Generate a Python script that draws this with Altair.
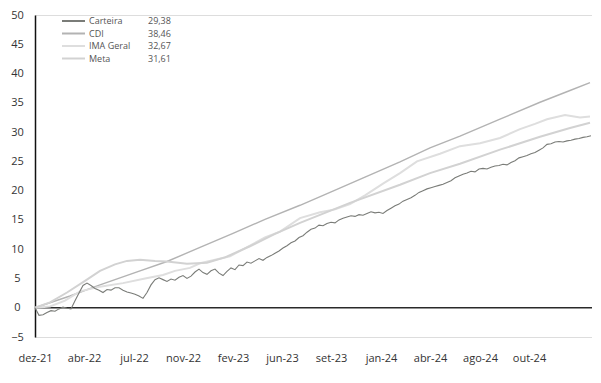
import altair as alt
import pandas as pd

# ---- data ----
series_names = ["Carteira", "CDI", "IMA Geral", "Meta"]
legend_values = ["29,38", "38,46", "32,67", "31,61"]
series_colors = ["#7a7c78", "#b3b3b3", "#dedede", "#d2d2d2"]

tick_positions = [0, 49, 99, 148, 198, 247, 296, 346, 395, 445, 494]
tick_labels = ["dez-21", "abr-22", "jul-22", "nov-22", "fev-23", "jun-23",
               "set-23", "jan-24", "abr-24", "ago-24", "out-24"]
y_ticks = [-5, 0, 5, 10, 15, 20, 25, 30, 35, 40, 45, 50]

carteira_x = list(range(0, 557, 4))
carteira_y = [
    0.0, -1.3, -1.2, -0.8, -0.5, -0.6, -0.2, 0.1, -0.1, -0.2,
    1.2, 2.5, 3.8, 4.2, 3.8, 3.3, 3.0, 2.6, 3.1, 3.0,
    3.4, 3.4, 3.0, 2.7, 2.5, 2.3, 2.0, 1.6, 2.6, 3.9,
    4.8, 5.1, 4.8, 4.5, 4.9, 4.7, 5.2, 5.5, 5.0, 5.4,
    6.1, 6.6, 6.0, 5.7, 6.3, 6.6, 5.9, 5.5, 6.2, 6.8,
    6.5, 7.3, 7.2, 7.8, 7.6, 8.0, 8.4, 8.1, 8.6, 8.9,
    9.3, 9.7, 10.2, 10.6, 11.1, 11.4, 12.0, 12.3, 12.9, 13.4,
    13.6, 14.1, 14.0, 14.4, 14.6, 14.5, 15.0, 15.3, 15.5, 15.7,
    15.6, 15.9, 15.8, 16.1, 16.4, 16.2, 16.3, 16.1, 16.6, 17.0,
    17.4, 17.7, 18.2, 18.5, 18.8, 19.2, 19.7, 20.0, 20.3, 20.5,
    20.7, 20.9, 21.1, 21.4, 21.7, 22.2, 22.5, 22.8, 23.0, 23.3,
    23.2, 23.7, 23.8, 23.7, 24.0, 24.2, 24.3, 24.5, 24.4, 24.8,
    25.1, 25.6, 25.8, 26.0, 26.3, 26.5, 26.9, 27.3, 27.9, 28.0,
    28.3, 28.4, 28.3, 28.5, 28.6, 28.8, 28.9, 29.1, 29.2, 29.38,
]

cdi_x = [0, 35, 65, 100, 132, 165, 198, 230, 265, 295, 330, 365, 395, 425, 465, 505, 535, 555]
cdi_y = [0.0, 2.0, 3.9, 6.0, 7.9, 10.3, 12.7, 15.1, 17.5, 19.7, 22.3, 24.9, 27.3, 29.3, 32.2, 35.1, 37.1, 38.46]

ima_x = [0, 15, 30, 45, 65, 88, 110, 128, 140, 155, 165, 178, 195, 215, 230, 245, 265,
         285, 300, 315, 330, 348, 365, 382, 405, 425, 445, 465, 485, 500, 512, 530, 545, 555]
ima_y = [0.0, 0.2, 1.2, 2.8, 3.6, 4.2, 5.0, 5.6, 6.3, 6.8, 7.6, 8.1, 8.8, 10.6, 12.0, 13.0, 15.3,
         16.3, 16.8, 17.7, 19.2, 21.2, 23.0, 25.0, 26.3, 27.6, 28.1, 29.0, 30.5, 31.4, 32.2, 32.9, 32.5, 32.67]

meta_x = [0, 15, 32, 50, 65, 80, 92, 105, 120, 132, 152, 172, 190, 215, 240, 265, 290,
          315, 365, 395, 425, 465, 505, 535, 555]
meta_y = [0.0, 0.9, 2.6, 4.6, 6.3, 7.4, 8.0, 8.2, 8.0, 7.9, 7.5, 7.7, 8.6, 10.5, 12.6, 14.5, 16.2,
          17.9, 21.0, 23.0, 24.6, 27.0, 29.2, 30.7, 31.61]

zero_level = [0]

# ---- tables ----
frames = []
for name, xs, ys in [("Carteira", carteira_x, carteira_y), ("CDI", cdi_x, cdi_y),
                     ("IMA Geral", ima_x, ima_y), ("Meta", meta_x, meta_y)]:
    frames.append(pd.DataFrame({"serie": name, "dia": xs, "valor": ys}))
df = pd.concat(frames, ignore_index=True)
legend_df = pd.DataFrame({"serie": series_names, "texto": legend_values})

FONT = "Open Sans"
color_scale = alt.Scale(domain=series_names, range=series_colors)

label_expr = "[{}][indexof([{}], datum.value)]".format(
    ",".join("'" + t + "'" for t in tick_labels),
    ",".join(str(p) for p in tick_positions))

x_enc = alt.X("dia:Q", scale=alt.Scale(domain=[0, 557], nice=False, zero=False),
              axis=alt.Axis(values=tick_positions, labelExpr=label_expr, title=None,
                            domain=False, ticks=False, grid=False, labelPadding=15,
                            labelFontSize=11, labelFont=FONT, labelColor="#333333",
                            labelFlush=False, labelOverlap=False))
y_axis = alt.Axis(values=y_ticks, title=None, grid=False, ticks=False,
                  domain=True, domainColor="#111111", domainWidth=1.5,
                  labelFontSize=11, labelFont=FONT, labelColor="#333333",
                  labelAlign="center", labelPadding=18, labelFlush=False,
                  labelOverlap=False, labelBound=False)
y_scale = alt.Scale(domain=[-5, 50], nice=False, zero=False)
y_enc = alt.Y("valor:Q", scale=y_scale, axis=y_axis)

base = alt.Chart(df)
widths = {"CDI": 1.4, "IMA Geral": 2.0, "Meta": 2.0, "Carteira": 1.1}
line_layers = []
for name in ["CDI", "IMA Geral", "Meta", "Carteira"]:
    line_layers.append(
        base.transform_filter(alt.datum.serie == name)
        .mark_line(strokeWidth=widths[name], interpolate="linear")
        .encode(x=x_enc, y=y_enc,
                color=alt.Color("serie:N", scale=color_scale, legend=None))
    )

zero_rule = alt.Chart(pd.DataFrame({"valor": zero_level})).mark_rule(
    color="#2a2a2a", strokeWidth=1.5).encode(y=y_enc)

plot = alt.layer(zero_rule, *line_layers)

leg_y = alt.Y("serie:N",
              scale=alt.Scale(type="point", domain=series_names, range=[6, 43.5], padding=0),
              axis=None)
leg_sym = alt.Chart(legend_df).mark_rule(strokeWidth=2).encode(
    y=leg_y, x=alt.value(27), x2=alt.value(50),
    color=alt.Color("serie:N", scale=color_scale, legend=None))
leg_name = alt.Chart(legend_df).mark_text(
    align="left", baseline="middle", font=FONT, fontSize=9, color="#555555").encode(
    y=leg_y, x=alt.value(54), text="serie:N")
leg_val = alt.Chart(legend_df).mark_text(
    align="left", baseline="middle", font=FONT, fontSize=9, color="#555555").encode(
    y=leg_y, x=alt.value(113), text="texto:N")
legend = alt.layer(leg_sym, leg_name, leg_val)

chart = alt.layer(plot, legend).resolve_scale(y="independent").properties(
    width=557, height=322,
    padding={"left": 27, "top": 7, "right": 0, "bottom": 30},
    autosize=alt.AutoSizeParams(type="none"),
).configure_view(stroke=None).configure(background="white")

chart.save("out.html", embed_options={"renderer": "svg", "actions": False})
